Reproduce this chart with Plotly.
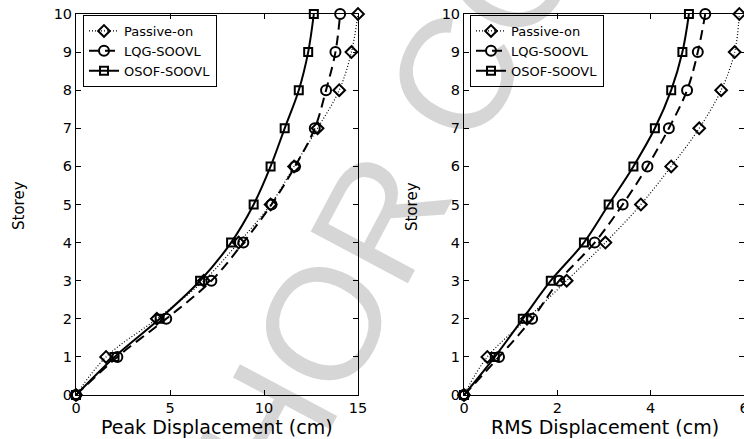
import plotly.graph_objects as go

# Storey levels (ground = 0)
storeys = [0, 1, 2, 3, 4, 5, 6, 7, 8, 9, 10]

# Peak displacement (cm)
peak_passive = [0, 1.6, 4.3, 6.8, 8.65, 10.35, 11.6, 12.85, 14.0, 14.65, 15.0]
peak_lqg = [0, 2.2, 4.8, 7.2, 8.9, 10.4, 11.65, 12.7, 13.3, 13.8, 14.05]
peak_osof = [0, 2.05, 4.45, 6.6, 8.25, 9.45, 10.35, 11.1, 11.85, 12.35, 12.65]

# RMS displacement (cm)
rms_passive = [0, 0.5, 1.35, 2.2, 3.03, 3.79, 4.44, 5.04, 5.51, 5.8, 5.9]
rms_lqg = [0, 0.75, 1.46, 2.04, 2.8, 3.4, 3.93, 4.39, 4.78, 5.01, 5.17]
rms_osof = [0, 0.66, 1.26, 1.86, 2.57, 3.1, 3.63, 4.09, 4.44, 4.68, 4.82]

series_names = ["Passive-on", "LQG-SOOVL", "OSOF-SOOVL"]
x_ticks_peak = [0, 5, 10, 15]
x_ticks_rms = [0, 2, 4, 6]

W, H = 744, 439
FONT = "DejaVu Sans"

styles = [
    dict(symbol="diamond-open", size=9, dash="1px,2px", width=1.2),
    dict(symbol="circle-open", size=10, dash="10px,6px", width=2),
    dict(symbol="square-open", size=8, dash="solid", width=2),
]

fig = go.Figure()


def add_panel(xs_list, xa, ya, legend):
    for name, xs, st in zip(series_names, xs_list, styles):
        fig.add_trace(go.Scatter(
            x=xs, y=storeys, name=name, mode="lines+markers",
            xaxis=xa, yaxis=ya, legend=legend, cliponaxis=False,
            line=dict(color="black", width=st["width"], dash=st["dash"],
                      shape="spline", smoothing=1.0),
            marker=dict(symbol=st["symbol"], size=st["size"], color="black",
                        line=dict(color="black", width=2)),
        ))


add_panel([peak_passive, peak_lqg, peak_osof], "x", "y", "legend")
add_panel([rms_passive, rms_lqg, rms_osof], "x2", "y2", "legend2")

axis_common = dict(
    showline=True, linecolor="black", linewidth=1, mirror="ticks",
    ticks="inside", ticklen=5, tickwidth=1, tickcolor="black",
    showgrid=False, zeroline=False, ticklabeloverflow="allow",
    automargin=False,
    tickfont=dict(family=FONT, size=14.5, color="black"),
)

y_dom = [(H - 395) / H, (H - 14) / H]

legend_common = dict(
    xanchor="left", yanchor="top", y=1 - 15 / H,
    bgcolor="rgba(0,0,0,0)", bordercolor="black", borderwidth=1,
    font=dict(family=FONT, size=13, color="black"),
    itemwidth=30, tracegroupgap=0,
)

fig.update_layout(
    template="none",
    width=W, height=H,
    margin=dict(l=0, r=0, t=0, b=0, autoexpand=False),
    paper_bgcolor="white", plot_bgcolor="rgba(0,0,0,0)",
    xaxis=dict(axis_common, domain=[76 / W, 358 / W], range=[0, 15],
               tickvals=x_ticks_peak, anchor="y"),
    yaxis=dict(axis_common, domain=y_dom, range=[0, 10], dtick=1, anchor="x"),
    xaxis2=dict(axis_common, domain=[464 / W, 1.0], range=[0, 6],
                tickvals=x_ticks_rms, anchor="y2"),
    yaxis2=dict(axis_common, domain=y_dom, range=[0, 10], dtick=1, anchor="x2"),
    legend=dict(legend_common, x=83 / W),
    legend2=dict(legend_common, x=470 / W),
    showlegend=True,
)

# faint diagonal watermark, kept beneath the axes and data
wm_cx, wm_cy = 352, 238
fig.add_shape(
    type="rect", xref="paper", yref="paper", layer="below",
    x0=(wm_cx - 10) / W, x1=(wm_cx + 10) / W,
    y0=1 - (wm_cy + 10) / H, y1=1 - (wm_cy - 10) / H,
    line=dict(width=0), fillcolor="rgba(0,0,0,0)",
    label=dict(text="AUTHOR COPY", textangle=-62, textposition="middle center",
               font=dict(family="Liberation Sans", size=160, color="#d6d6d6")),
)

title_font = dict(family=FONT, size=19, color="black")
ylab_font = dict(family=FONT, size=15, color="black")
annots = [
    dict(text="Peak Displacement (cm)", x=217 / W, y=1 - 427 / H, font=title_font),
    dict(text="RMS Displacement (cm)", x=605 / W, y=1 - 427 / H, font=title_font),
    dict(text="Storey", x=19 / W, y=1 - 206 / H, font=ylab_font, textangle=-90),
    dict(text="Storey", x=412 / W, y=1 - 206 / H, font=ylab_font, textangle=-90),
]
for a in annots:
    fig.add_annotation(xref="paper", yref="paper", showarrow=False,
                       xanchor="center", yanchor="middle", **a)

fig.write_html("out.html")
